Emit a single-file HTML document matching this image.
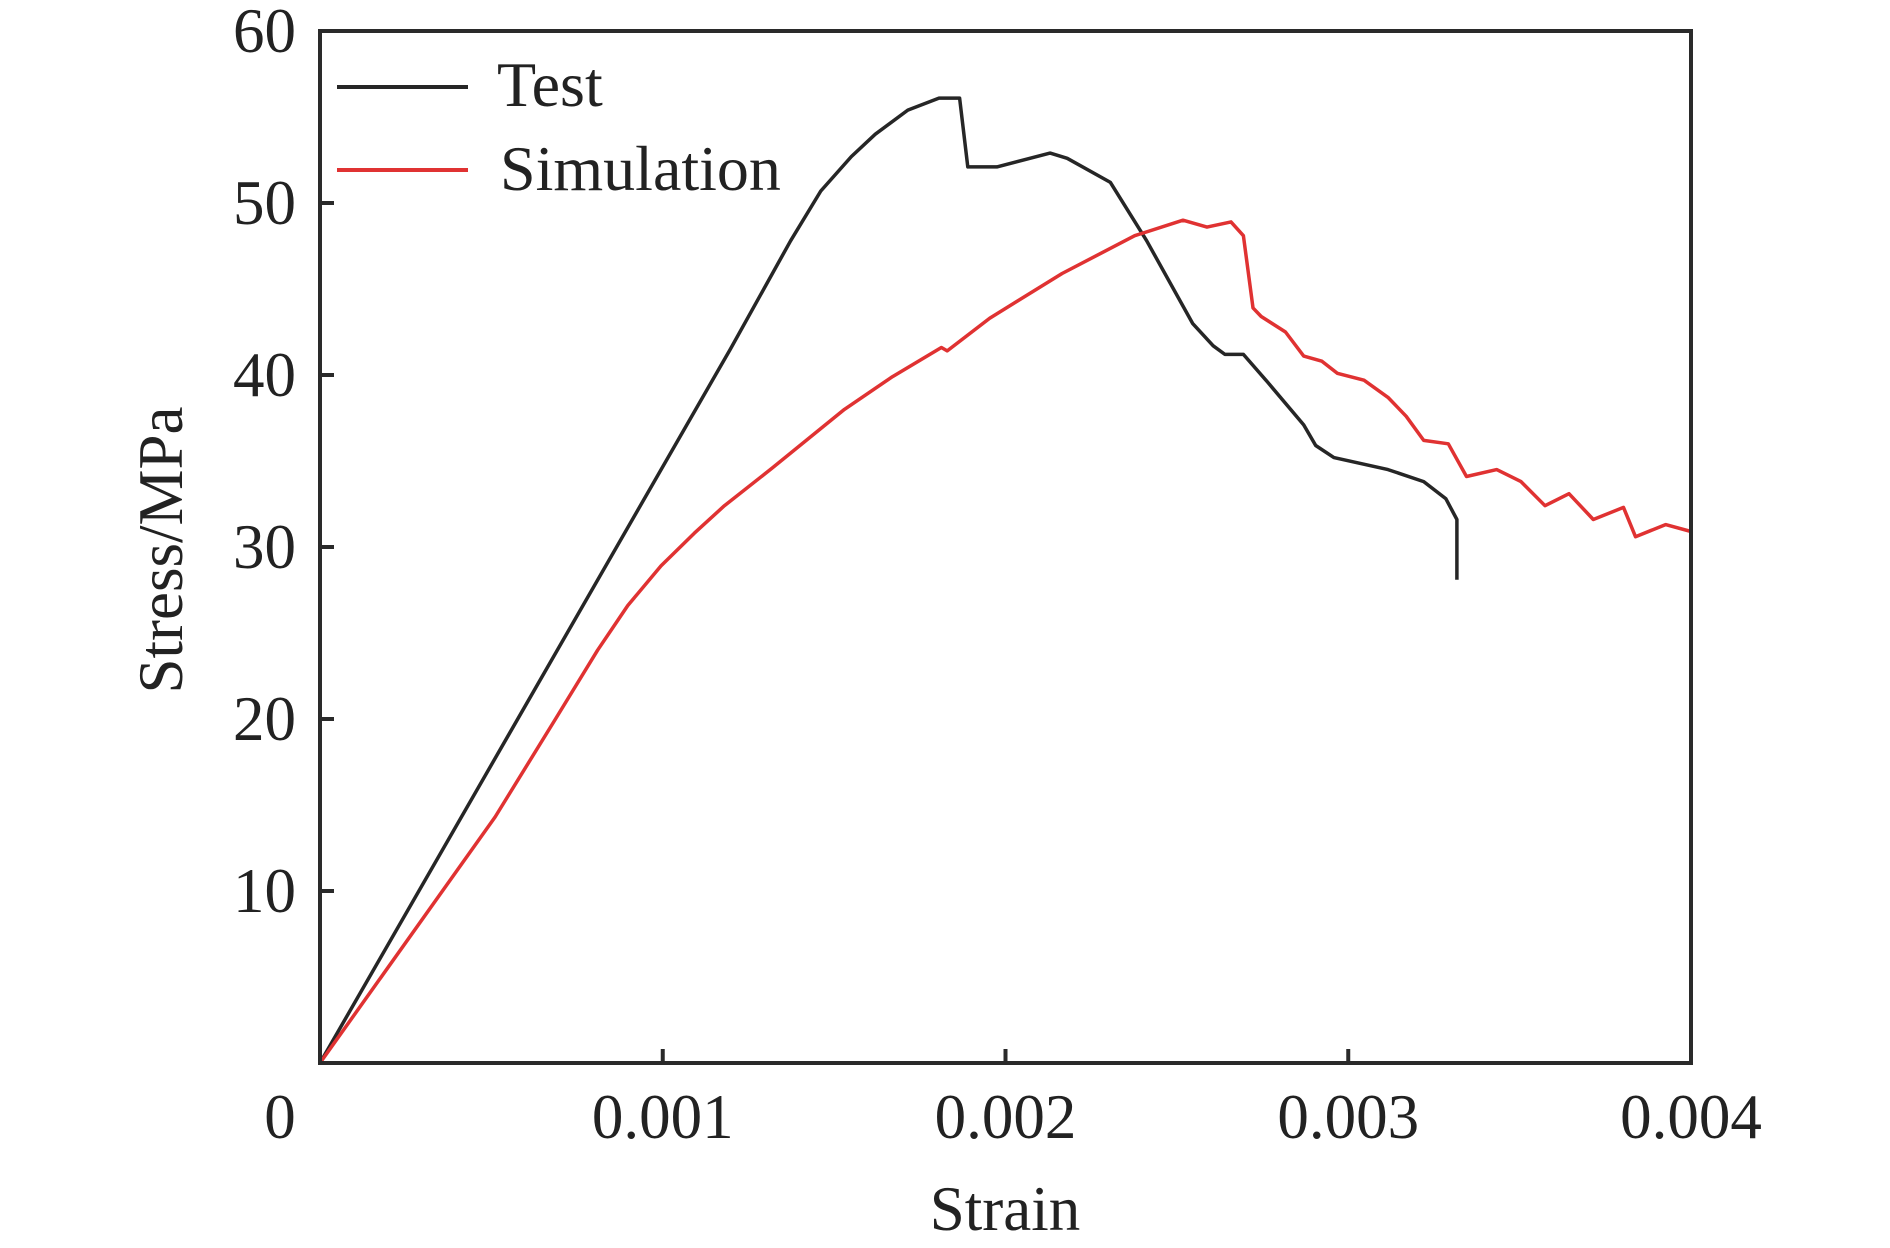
<!DOCTYPE html>
<html><head><meta charset="utf-8"><style>
html,body{margin:0;padding:0;background:#fff;}
svg{display:block;font-family:"Liberation Serif",serif;}
</style></head><body>
<svg id="chart" width="1890" height="1248" viewBox="0 0 1890 1248" xmlns="http://www.w3.org/2000/svg"></svg>
<script>
const xTicks=[0.001,0.002,0.003,0.004];
const xTickLabels=["0.001","0.002","0.003","0.004"];
const yTicks=[10,20,30,40,50,60];
const yTickLabels=["10","20","30","40","50","60"];
const testStrain=[0,0.001197,0.001373,0.001461,0.00155,0.00162,0.001715,0.001806,0.001866,0.00189,0.001975,0.00213,0.00218,0.002306,0.002412,0.002546,0.002606,0.00264,0.002694,0.002764,0.00287,0.002905,0.002958,0.003116,0.00322,0.003285,0.003317,0.003317];
const testStress=[0,41.5,47.8,50.7,52.7,54.0,55.4,56.1,56.1,52.1,52.1,52.9,52.6,51.2,47.8,43.0,41.7,41.2,41.2,39.6,37.1,35.9,35.2,34.5,33.8,32.8,31.6,28.1];
const simStrain=[0,0.000511,0.000687,0.00081,0.000898,0.000995,0.001092,0.00118,0.00132,0.00153,0.00167,0.001813,0.00183,0.001954,0.002165,0.002377,0.002518,0.002588,0.002658,0.002694,0.002722,0.002746,0.002817,0.00287,0.002923,0.002968,0.003046,0.003116,0.003169,0.00322,0.003292,0.003345,0.003433,0.003504,0.003574,0.003644,0.003715,0.003803,0.003838,0.003926,0.004];
const simStress=[0,14.3,20.0,24.0,26.6,28.9,30.8,32.4,34.6,38.0,39.9,41.6,41.4,43.3,45.9,48.1,49.0,48.6,48.9,48.1,43.9,43.4,42.5,41.1,40.8,40.1,39.7,38.7,37.6,36.2,36.0,34.1,34.5,33.8,32.4,33.1,31.6,32.3,30.6,31.3,30.9];

const L=320,R=1691,T=31,B=1063;
const xs=v=>L+(v/0.004)*(R-L);
const ys=v=>B-(v/60)*(B-T);
const svg=document.getElementById('chart');
const NS='http://www.w3.org/2000/svg';
function mk(tag,attrs,text){const e=document.createElementNS(NS,tag);for(const k in attrs)e.setAttribute(k,attrs[k]);if(text!==undefined)e.textContent=text;svg.appendChild(e);return e;}

let d=testStrain.map((v,i)=>(i?'L':'M')+xs(v).toFixed(1)+','+ys(testStress[i]).toFixed(1)).join(' ');
let p=mk('path',{d:d,fill:'none',stroke:'#262626','stroke-width':3.5,'stroke-linejoin':'round'});


d=simStrain.map((v,i)=>(i?'L':'M')+xs(v).toFixed(1)+','+ys(simStress[i]).toFixed(1)).join(' ');
p=mk('path',{d:d,fill:'none',stroke:'#e03232','stroke-width':3.5,'stroke-linejoin':'round'});



let f=mk('rect',{x:L,y:T,width:R-L,height:B-T,fill:'none',stroke:'#2a2a2a','stroke-width':4});



xTicks.forEach((v,i)=>{
  const t=mk('line',{x1:xs(v),x2:xs(v),y1:B,y2:B-14,stroke:'#2a2a2a','stroke-width':4});
  
  
  const tl=mk('text',{x:xs(v),y:1138,'text-anchor':'middle','font-size':63,fill:'#222'},xTickLabels[i]);
  
  
});
yTicks.forEach((v,i)=>{
  const t=mk('line',{x1:L,x2:L+14,y1:ys(v),y2:ys(v),stroke:'#2a2a2a','stroke-width':4});
  
  
  const tl=mk('text',{x:296,y:ys(v)+21,'text-anchor':'end','font-size':63,fill:'#222'},yTickLabels[i]);
  
  
});
let z=mk('text',{x:280,y:1138,'text-anchor':'middle','font-size':63,fill:'#222'},'0');


let xt=mk('text',{x:1005,y:1230,'text-anchor':'middle','font-size':63,fill:'#222'},'Strain');


let yt=mk('text',{x:0,y:0,'text-anchor':'middle','font-size':63,fill:'#222',transform:'translate(182,550) rotate(-90)'},'Stress/MPa');



let l1=mk('line',{x1:337,x2:468,y1:87,y2:87,stroke:'#262626','stroke-width':4});


let t1=mk('text',{x:497,y:106,'font-size':64,fill:'#222'},'Test');


let l2=mk('line',{x1:337,x2:468,y1:170,y2:170,stroke:'#e03232','stroke-width':4});


let t2=mk('text',{x:500,y:190,'font-size':64,fill:'#222'},'Simulation');


</script>
</body></html>
